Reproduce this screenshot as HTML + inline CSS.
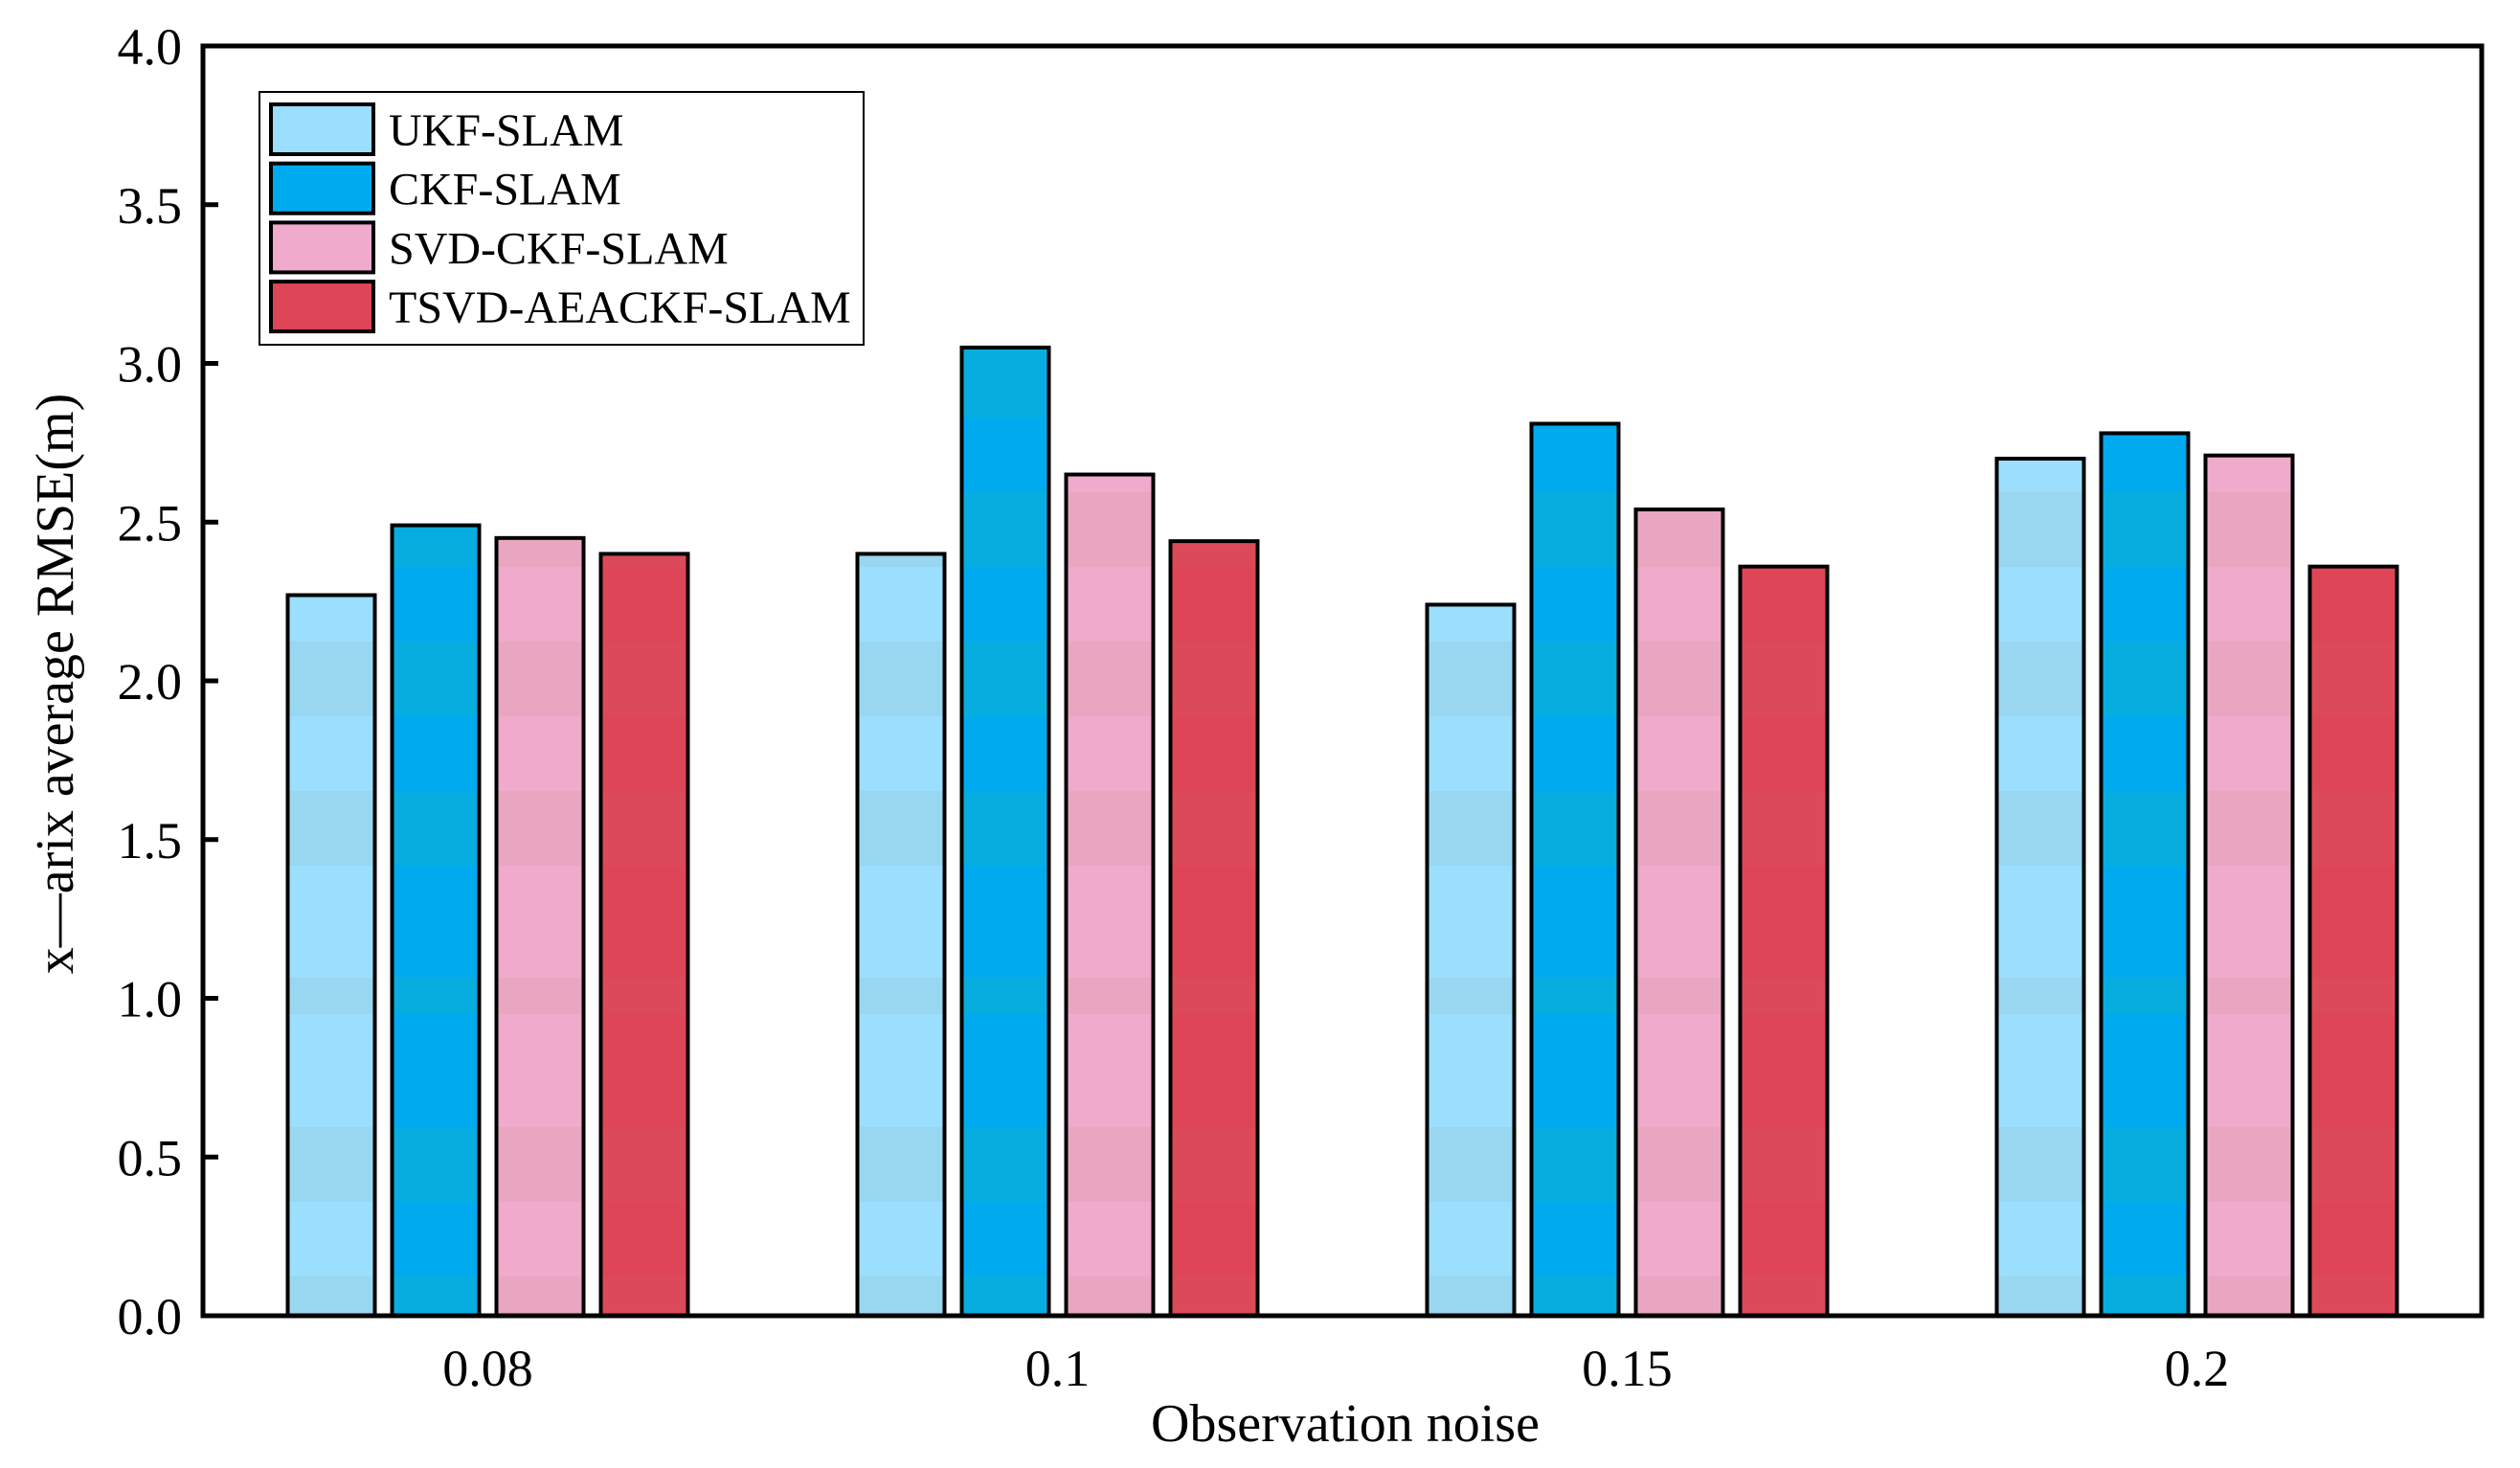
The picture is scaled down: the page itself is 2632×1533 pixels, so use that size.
<!DOCTYPE html>
<html><head><meta charset="utf-8"><style>
html,body{margin:0;padding:0;background:#fff;}
svg{display:block;font-family:"Liberation Serif","DejaVu Serif",serif;}
</style></head><body>
<svg id="chart" width="2632" height="1533" viewBox="0 0 2632 1533" xmlns="http://www.w3.org/2000/svg">
<defs id="defs"></defs>
<g id="bars"></g>
<g id="axes"></g>
<g id="legend"></g>
</svg>
<script>
const categories = ["0.08","0.1","0.15","0.2"];
const seriesNames = ["UKF-SLAM","CKF-SLAM","SVD-CKF-SLAM","TSVD-AEACKF-SLAM"];
const ukfValues = [2.27, 2.40, 2.24, 2.70];
const ckfValues = [2.49, 3.05, 2.81, 2.78];
const svdValues = [2.45, 2.65, 2.54, 2.71];
const tsvdValues = [2.40, 2.44, 2.36, 2.36];
const yTicks = ["0.0","0.5","1.0","1.5","2.0","2.5","3.0","3.5","4.0"];

const series = [ukfValues, ckfValues, svdValues, tsvdValues];
const light = ["#9BDEFD","#00AAEE","#EFAACC","#DE4657"];
const dark = ["#99D6F0","#08ADE0","#E9A6C0","#DC4A5A"];
const NS = "http://www.w3.org/2000/svg";
const L = 212, R = 2592, T = 48, B = 1374;
const yMin = 0, yMax = 4;
function yScale(v){ return B - (v - yMin) / (yMax - yMin) * (B - T); }
const band = (R - L) / categories.length;
function xCenter(i){ return L + band * (i + 0.5); }
const barW = 91, pitch = 109;
function mk(tag, attrs, parent){ const e = document.createElementNS(NS, tag); for (const k in attrs) e.setAttribute(k, attrs[k]); parent.appendChild(e); return e; }

const defs = document.getElementById('defs');
const barsG = document.getElementById('bars');
const axesG = document.getElementById('axes');
const legG = document.getElementById('legend');
const stripeYs = [202,358,514,670,826,1021,1177,1333];
const stripeH = [78,78,78,78,78,38,78,41];

series.forEach((vals, s) => {
  vals.forEach((v, i) => {
    const x = xCenter(i) + (s - 1.5) * pitch - barW / 2;
    const y = yScale(v);
    const g = mk('g', {}, barsG);
    
    
    const cp = mk('clipPath', {id: 'c' + s + '_' + i}, defs);
    mk('rect', {x: x, y: y, width: barW, height: B - y}, cp);
    mk('rect', {x: x, y: y, width: barW, height: B - y, fill: light[s]}, g);
    const sg = mk('g', {'clip-path': 'url(#c' + s + '_' + i + ')'}, g);
    stripeYs.forEach((sy, k) => mk('rect', {x: x, y: sy, width: barW, height: stripeH[k], fill: dark[s]}, sg));
    mk('rect', {x: x, y: y, width: barW, height: B - y, fill: 'none', stroke: '#000', 'stroke-width': 4}, g);
  });
});

const frame = mk('rect', {x: L, y: T, width: R - L, height: B - T, fill: 'none', stroke: '#000', 'stroke-width': 5}, axesG);


yTicks.forEach((t) => {
  const v = parseFloat(t);
  const y = yScale(v);
  mk('line', {x1: L, x2: L + 16, y1: y, y2: y, stroke: '#000', 'stroke-width': 5}, axesG);
  const tx = mk('text', {x: 190, y: y + 19, 'text-anchor': 'end', 'font-size': 54}, axesG);
  tx.textContent = t;
  
  
});
categories.forEach((c, i) => {
  const tx = mk('text', {x: xCenter(i), y: 1447, 'text-anchor': 'middle', 'font-size': 54}, axesG);
  tx.textContent = c;
  
  
});
const xt = mk('text', {x: 1405, y: 1505, 'text-anchor': 'middle', 'font-size': 56}, axesG);
xt.textContent = 'Observation noise';


const yt = mk('text', {x: 0, y: 0, 'text-anchor': 'middle', 'font-size': 56, transform: 'translate(76,714) rotate(-90)'}, axesG);
yt.textContent = 'x\u2014arix average RMSE(m)';



const lb = mk('rect', {x: 271, y: 96, width: 631, height: 264, fill: '#fff', stroke: '#000', 'stroke-width': 2}, legG);


seriesNames.forEach((n, s) => {
  const cy = 135 + s * 61.7;
  const g = mk('g', {}, legG);
  
  
  mk('rect', {x: 283, y: cy - 26, width: 107, height: 52, fill: light[s], stroke: '#000', 'stroke-width': 4}, g);
  const tx = mk('text', {x: 406, y: cy + 17, 'font-size': 48}, g);
  tx.textContent = n;
});
</script>
</body></html>
